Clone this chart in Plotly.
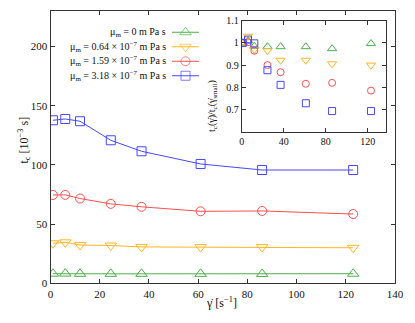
import plotly.graph_objects as go

# page body adds an 8px margin, so the figure is drawn 8px smaller and positions shifted
OFF = 8
W, H = 415 - OFF, 323 - OFF


def px(x):
    return (x - OFF) / W


def py(y):
    return 1 - (y - OFF) / H


# shear rate (s^-1)
gdot = [1, 6, 12, 24.5, 37, 61, 86, 123]

labels = ["μ<sub>m</sub> = 0 m Pa s",
          "μ<sub>m</sub> = 0.64 × 10<sup>−7</sup> m Pa s",
          "μ<sub>m</sub> = 1.59 × 10<sup>−7</sup> m Pa s",
          "μ<sub>m</sub> = 3.18 × 10<sup>−7</sup> m Pa s"]

# t_c [10^-3 s]
tc_0 = [8.1, 8.2, 8.0, 8.0, 8.0, 8.0, 7.9, 8.1]
tc_064 = [33.8, 34.6, 32.3, 31.9, 30.7, 30.6, 30.6, 30.0]
tc_159 = [74.6, 74.7, 71.6, 67.1, 64.6, 60.8, 61.1, 58.5]
tc_318 = [137.7, 138.8, 136.9, 120.8, 111.5, 100.8, 95.7, 95.7]

# inset: t_c(gdot)/t_c(gdot_small)
r_0 = [1.0, 1.01, 0.985, 0.983, 0.983, 0.983, 0.974, 0.997]
r_064 = [1.0, 1.03, 0.97, 0.965, 0.922, 0.922, 0.906, 0.90]
r_159 = [1.0, 1.003, 0.965, 0.90, 0.868, 0.816, 0.82, 0.785]
r_318 = [1.0, 1.015, 0.998, 0.877, 0.811, 0.728, 0.693, 0.693]

colors = ["#4caf4c", "#ffb626", "#ff5050", "#4848ff"]
symbols = ["triangle-up-open", "triangle-down-open", "circle-open", "square-open"]
sizes = [10, 10, 9, 9]

main = [tc_0, tc_064, tc_159, tc_318]
inset = [r_0, r_064, r_159, r_318]

fig = go.Figure()
for i in range(4):
    fig.add_trace(go.Scatter(x=gdot, y=main[i], mode="lines+markers",
                             line=dict(color=colors[i], width=1),
                             marker=dict(symbol=symbols[i], size=sizes[i], color=colors[i],
                                         line=dict(color=colors[i], width=1)),
                             showlegend=False, xaxis="x", yaxis="y"))
for i in range(4):
    fig.add_trace(go.Scatter(x=gdot, y=inset[i], mode="markers",
                             marker=dict(symbol=symbols[i], size=sizes[i] - 2, color=colors[i],
                                         line=dict(color=colors[i], width=1)),
                             showlegend=False, xaxis="x2", yaxis="y2"))

# legend samples (symbol to the right of the text, like the original)
for i in range(4):
    row = 3.5 - i
    fig.add_trace(go.Scatter(x=[0, 0.5, 1], y=[row, row, row], mode="lines+markers",
                             line=dict(color=colors[i], width=1),
                             marker=dict(symbol=symbols[i], size=[0, sizes[i], 0], color=colors[i],
                                         line=dict(color=colors[i], width=1)),
                             showlegend=False, xaxis="x3", yaxis="y3", hoverinfo="skip"))

fam = "Liberation Serif"
font = dict(family=fam, color="#111", size=11)
ax = dict(showgrid=False, zeroline=False, showline=True, linecolor="#333", linewidth=1,
          mirror="ticks", ticks="inside", ticklen=4, tickcolor="#333", tickfont=font,
          automargin=False)

leg_dom = [py(83), py(25)]
fig.update_layout(
    template="none",
    width=W, height=H, margin=dict(l=0, r=0, t=0, b=0, pad=0),
    paper_bgcolor="white", plot_bgcolor="white", font=font,
    xaxis=dict(ax, domain=[px(50.5), px(395)], range=[0, 140], dtick=20, anchor="y"),
    yaxis=dict(ax, domain=[py(283.3), py(11)], range=[0, 230], dtick=50, anchor="x"),
    xaxis2=dict(ax, domain=[px(241.7), px(385.7)], range=[0, 137], tickvals=[0, 40, 80, 120],
                anchor="y2", tickfont=dict(font, size=10)),
    yaxis2=dict(ax, domain=[py(131.7), py(20.7)], range=[0.6, 1.1],
                tickvals=[0.7, 0.8, 0.9, 1, 1.1], ticktext=["0.7", "0.8", "0.9", "1", "1.1"],
                anchor="x2", tickfont=dict(font, size=10)),
    xaxis3=dict(domain=[px(172), px(199)], range=[0, 1], visible=False, anchor="y3"),
    yaxis3=dict(domain=leg_dom, range=[0, 4], visible=False, anchor="x3"),
)

for i in range(4):
    yp = leg_dom[0] + (3.5 - i) / 4 * (leg_dom[1] - leg_dom[0])
    fig.add_annotation(x=px(168), y=yp, xref="paper", yref="paper", text=labels[i],
                       showarrow=False, xanchor="right", yanchor="middle",
                       font=dict(font, size=10))

fig.add_annotation(x=px(13), y=py(140), xref="paper", yref="paper",
                   text="t<sub>c</sub> [10<sup>−3</sup> s]", textangle=-90, showarrow=False,
                   font=dict(font, size=12))
fig.add_annotation(x=px(221), y=py(312), xref="paper", yref="paper",
                   text="γ̇ [s<sup>−1</sup>]", showarrow=False, font=dict(font, size=12))
fig.add_annotation(x=px(212), y=py(78), xref="paper", yref="paper",
                   text="t<sub>c</sub>(γ̇)/t<sub>c</sub>(γ̇<sub>small</sub>)", textangle=-90,
                   showarrow=False, font=dict(font, size=10))

fig.write_html("out.html")
